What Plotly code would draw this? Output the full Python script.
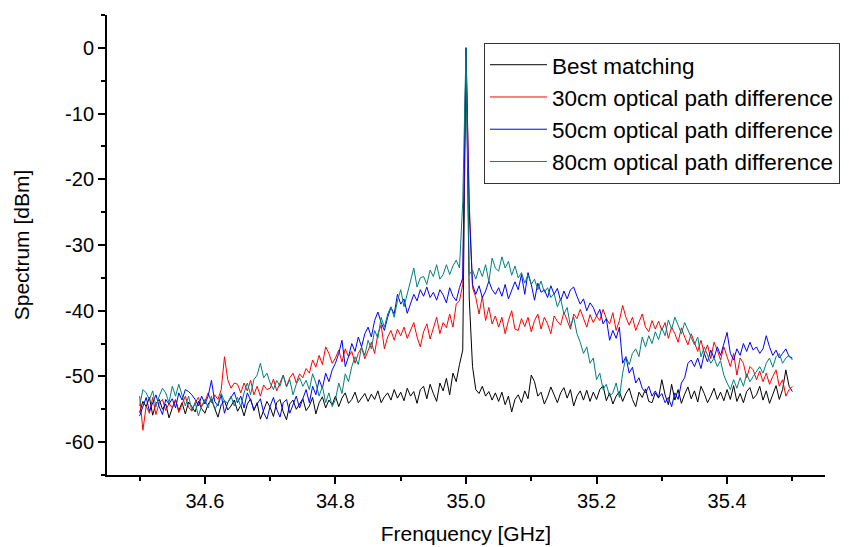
import numpy as np
import plotly.graph_objects as go

# Frequency grid (GHz): 34.5 .. 35.5 in 5 MHz steps (201 points)
freq_start = 34.5
freq_step = 0.005
n_points = 201

series_names = [
    "Best matching",
    "30cm optical path difference",
    "50cm optical path difference",
    "80cm optical path difference",
]
series_colors = ["#000000", "#FF0000", "#0000FF", "#008080"]

best_matching = [
    -55.5, -53.8, -54.6, -53.2, -55.9, -54.1, -53.5, -55.0, -54.2, -56.3,
    -54.8, -53.6, -55.2, -54.0, -55.7, -53.9, -54.6, -55.4, -53.8, -54.9,
    -55.6, -54.2, -53.5, -55.0, -56.2, -54.3, -53.7, -55.1, -54.5, -53.6,
    -55.3, -54.4, -56.0, -54.2, -53.4, -55.2, -54.0, -56.5, -55.1, -53.8,
    -54.7, -56.1, -54.0, -53.5, -55.4, -56.6, -54.2, -53.6, -55.0, -54.1,
    -53.4, -55.2, -54.5, -53.2, -55.7, -54.0, -53.1, -54.8, -53.6, -54.3,
    -53.0, -54.6, -53.3, -52.5, -54.1, -53.5, -52.4, -54.0, -53.2, -52.6,
    -53.8, -52.7, -53.5, -52.2, -54.0, -53.1, -52.5, -53.6, -52.0, -53.3,
    -52.4, -53.7, -51.8, -53.0, -52.3, -54.1, -52.0, -51.5, -53.4, -51.2,
    -52.6, -53.8, -51.0, -52.2, -50.3, -52.8, -49.5, -50.8, -48.2, -46.0,
    0.0,
    -38.2, -48.5, -52.0, -52.6, -51.5, -53.0, -52.3, -53.6, -52.5,
    -53.8, -52.4, -54.3, -53.0, -55.4, -53.5, -52.8, -54.0, -52.2, -53.4,
    -49.8, -50.8, -53.0, -52.4, -54.2, -53.1, -51.6, -52.8, -54.0, -52.5,
    -51.7, -53.3, -52.0, -54.5, -53.0, -52.2, -53.6, -52.1, -53.8, -52.4,
    -53.5, -52.0, -51.4, -53.7, -52.5, -54.2, -53.0, -52.3, -53.8, -52.6,
    -51.8, -53.5, -54.6, -52.4, -53.2, -51.9, -53.8, -54.0, -52.5, -53.3,
    -50.5, -52.8, -54.3, -51.2, -53.6, -52.0, -54.1, -52.7, -51.6, -53.4,
    -52.2, -53.9, -51.5, -52.6, -54.0, -53.0, -51.8, -53.5, -52.4, -53.7,
    -52.0, -53.5, -51.4, -53.8, -52.6, -54.0, -52.3, -51.7, -53.4, -52.8,
    -51.5, -53.6, -52.2, -54.1, -52.7, -51.4, -53.5, -52.0, -49.0, -51.5,
    -52.3,
]

opd_30cm = [
    -53.0, -58.2, -54.5, -55.6, -53.2, -55.8, -54.0, -53.5, -55.2, -54.1,
    -54.8, -53.5, -55.5, -54.2, -53.0, -54.7, -55.3, -54.0, -53.2, -54.6,
    -53.8, -52.5, -54.0, -52.8, -53.5, -52.0, -47.0, -50.5, -51.8, -51.0,
    -51.2, -52.5, -51.0, -52.2, -50.6, -52.8, -51.5, -53.0, -51.3, -52.0,
    -51.8, -50.4, -52.2, -51.0, -49.8, -51.5, -50.2, -49.5, -51.0, -49.6,
    -50.2, -48.8, -49.5, -47.5, -48.6, -46.8, -48.2, -45.5, -46.5, -48.0,
    -47.2, -46.0, -47.8, -45.8, -47.0, -46.2, -48.0, -46.5, -45.6, -47.3,
    -46.0, -44.8, -46.5, -43.5, -42.2, -45.8, -44.0, -43.0, -44.5, -42.8,
    -43.8, -42.5, -44.2, -43.0, -41.8, -44.0, -45.5, -43.2, -42.0, -44.3,
    -42.5, -41.0, -43.5, -41.8, -42.6, -40.5, -42.5, -39.0, -38.5, -36.0,
    0.0,
    -23.5, -36.5, -38.0, -40.5, -37.8, -41.5, -39.5, -42.0, -40.8,
    -42.5, -41.0, -43.5, -41.5, -40.0, -42.8, -43.0, -41.2, -42.4, -41.0,
    -43.2, -41.5, -40.5, -42.8, -41.0, -42.0, -43.5, -40.8, -41.6, -42.2,
    -40.2, -41.5, -42.8, -40.5, -41.2, -39.8, -41.0, -42.5, -40.6, -41.8,
    -40.8, -41.5, -39.8, -41.2, -42.0, -40.3, -43.0, -41.5, -39.2, -41.0,
    -42.2, -41.0, -43.0, -41.8, -40.5, -42.5, -43.2, -41.5, -42.8, -41.6,
    -43.0, -41.8, -44.2, -42.5, -43.5, -44.8, -42.6, -44.0, -45.2, -43.5,
    -45.0, -46.2, -44.5, -46.5, -45.2, -47.3, -44.8, -46.0, -47.5, -45.5,
    -47.0, -48.5, -46.5, -49.8, -47.2, -48.0, -50.2, -48.5, -49.0, -50.5,
    -49.2, -50.8, -49.5, -51.2, -50.0, -49.0, -51.5, -50.5, -53.0, -52.0,
    -51.5,
]

opd_50cm = [
    -56.0, -54.5, -53.2, -55.3, -54.0, -52.8, -54.6, -55.8, -53.5, -54.2,
    -53.4, -54.8, -52.5, -53.6, -52.0, -52.3, -52.8, -53.5, -54.5, -53.0,
    -54.2, -53.0, -50.6, -53.8, -54.5, -52.8, -55.6, -54.0, -53.2, -52.4,
    -54.0, -53.0, -54.8, -52.5, -53.6, -55.0, -54.2, -53.4, -55.5, -56.5,
    -54.5, -53.2, -55.0, -56.2, -54.0, -53.5, -55.6, -54.2, -53.0, -54.8,
    -53.5, -52.0, -54.0, -51.5, -52.8, -50.5, -51.8, -49.5, -50.8, -49.0,
    -48.0, -46.5, -44.5, -48.5, -47.0, -45.0, -46.2, -44.0, -45.5, -43.5,
    -42.5, -44.0, -41.5, -40.2, -41.8, -43.0, -41.0, -39.5, -40.5, -37.5,
    -39.0, -38.2, -40.4, -39.0, -37.5, -38.5, -36.8, -37.8, -36.4, -38.0,
    -37.2, -38.4, -36.8, -37.6, -38.8, -36.5, -37.8, -38.5, -36.5, -35.0,
    0.0,
    -25.0, -36.0, -37.5, -36.2, -38.0, -37.0, -35.5, -36.8, -37.5,
    -36.5, -37.8, -36.0, -38.2, -37.0, -35.6, -36.8, -34.5, -37.5, -34.2,
    -36.0, -38.4, -35.8, -37.2, -36.8, -38.0, -36.2, -37.5, -36.6, -38.5,
    -37.0, -38.2, -36.8, -36.4, -37.8, -39.0, -38.2, -40.0, -38.8, -39.5,
    -40.8, -39.8, -42.0, -41.2, -44.5, -43.0, -44.2, -42.5, -48.0, -47.0,
    -49.5, -48.6, -51.0, -50.2, -51.8, -52.5, -51.5, -53.0, -52.2, -53.2,
    -52.6, -54.0, -53.2, -54.6, -52.5, -53.5, -51.0, -50.2, -48.0, -47.5,
    -48.5, -47.2, -48.8, -46.5, -47.8, -46.0, -47.2, -45.5, -46.8, -45.2,
    -43.3, -46.5, -47.5, -45.8, -46.8, -45.0, -46.2, -44.8, -46.0, -45.5,
    -46.5, -45.8, -43.8, -45.5, -46.8, -46.0, -47.2, -46.5, -45.8, -47.0,
    -47.2,
]

opd_80cm = [
    -54.5, -52.0, -52.5, -53.5, -52.2, -54.6, -53.0, -51.8, -52.5, -54.0,
    -51.5, -53.0, -51.2, -52.8, -54.5, -53.0, -55.2, -54.0, -56.0, -54.5,
    -53.5, -54.8, -53.0, -55.0, -54.2, -52.6, -53.8, -54.0, -53.0, -54.5,
    -53.2, -54.6, -52.5, -51.0, -52.8, -50.5, -49.8, -48.0, -50.2, -49.5,
    -51.0, -52.0, -50.6, -51.5, -49.8, -51.6, -50.5, -52.8, -51.2, -50.2,
    -51.5, -50.6, -52.0, -49.6, -51.0, -53.0, -51.5, -54.0, -52.5, -54.6,
    -53.5, -51.0, -52.6, -49.6, -50.8, -48.5, -47.0, -48.2, -45.5, -46.8,
    -44.5, -45.8, -43.0, -44.2, -41.0, -42.5, -40.5, -39.4, -41.0, -38.5,
    -36.8, -39.4, -37.5, -35.5, -33.5, -36.4, -35.0, -34.8, -36.0, -33.8,
    -34.8, -33.0, -35.2, -34.5, -33.0, -34.5, -33.2, -32.3, -33.5, -23.4,
    0.0,
    -34.5, -33.8, -35.2, -33.5, -34.8, -33.0, -35.6, -32.0, -33.5,
    -34.0, -31.8, -33.5, -32.5, -34.6, -33.2, -35.0, -34.2, -35.8, -34.5,
    -36.0, -35.2, -36.8, -35.5, -37.2, -36.5, -38.0, -37.4, -39.4, -38.2,
    -40.5, -39.5, -42.4, -41.0, -43.5, -44.8, -46.5, -45.5, -48.0, -47.2,
    -50.5, -49.5, -52.0, -51.2, -53.0, -52.5, -51.0, -53.2, -49.5, -47.0,
    -48.2, -46.5, -45.8, -47.0, -44.0, -45.5, -43.8, -45.0, -43.2, -44.4,
    -42.6, -43.8, -41.4, -42.8, -41.0, -42.2, -43.5, -41.8, -43.0, -44.0,
    -45.2, -44.0, -47.0, -45.5, -46.8, -48.0, -47.2, -48.5, -47.6, -49.8,
    -51.0, -52.0, -50.5, -51.8, -50.2, -51.5, -49.6, -50.8, -50.0, -49.2,
    -48.5, -49.5, -48.0, -47.2, -48.6, -47.0, -46.5, -48.0, -47.2, -46.8,
    -47.5,
]

x_tick_vals = [34.6, 34.8, 35.0, 35.2, 35.4]
x_tick_text = ["34.6", "34.8", "35.0", "35.2", "35.4"]
y_tick_vals = [-60, -50, -40, -30, -20, -10, 0]
y_tick_text = ["-60", "-50", "-40", "-30", "-20", "-10", "0"]

freq = freq_start + freq_step * np.arange(n_points)

FONT = "Liberation Sans, Arial, sans-serif"

fig = go.Figure()
for name, color, vals in zip(series_names, series_colors,
                             [best_matching, opd_30cm, opd_50cm, opd_80cm]):
    fig.add_trace(go.Scatter(x=freq, y=vals, mode="lines", name=name,
                             line=dict(color=color, width=1)))

axis_common = dict(
    showline=True, linecolor="black", linewidth=2,
    ticks="outside", ticklen=7, tickwidth=1.5, tickcolor="black",
    showgrid=False, zeroline=False, mirror=False,
    tickfont=dict(family=FONT, size=20, color="black"),
)

fig.update_xaxes(
    range=[34.45, 35.55], tickvals=x_tick_vals, ticktext=x_tick_text,
    minor=dict(ticks="outside", ticklen=4, tickwidth=1.5, tickcolor="black",
               dtick=0.1, tick0=34.5),
    title=dict(text="Frenquency [GHz]", font=dict(family=FONT, size=21, color="black")),
    automargin=False,
    **axis_common,
)
fig.update_yaxes(
    range=[-65, 5], tickvals=y_tick_vals, ticktext=y_tick_text,
    minor=dict(ticks="outside", ticklen=4, tickwidth=1.5, tickcolor="black",
               dtick=5, tick0=0),
    title=dict(text="Spectrum [dBm]", font=dict(family=FONT, size=21, color="black"),
               standoff=30),
    automargin=True,
    **axis_common,
)

fig.update_layout(
    width=849, height=547,
    margin=dict(l=107, r=24, t=15, b=72, autoexpand=False),
    plot_bgcolor="white", paper_bgcolor="white",
    font=dict(family=FONT, color="black"),
    legend=dict(
        x=0.525, y=0.94, xanchor="left", yanchor="top",
        bgcolor="white", bordercolor="#333333", borderwidth=1,
        font=dict(family=FONT, size=22.5, color="black"),
        itemwidth=57, tracegroupgap=0,
    ),
    showlegend=True,
)

fig.write_html(
    "out.html",
    config={"displayModeBar": False},
    post_script="document.body.style.margin='0';document.body.style.overflow='hidden';",
)
